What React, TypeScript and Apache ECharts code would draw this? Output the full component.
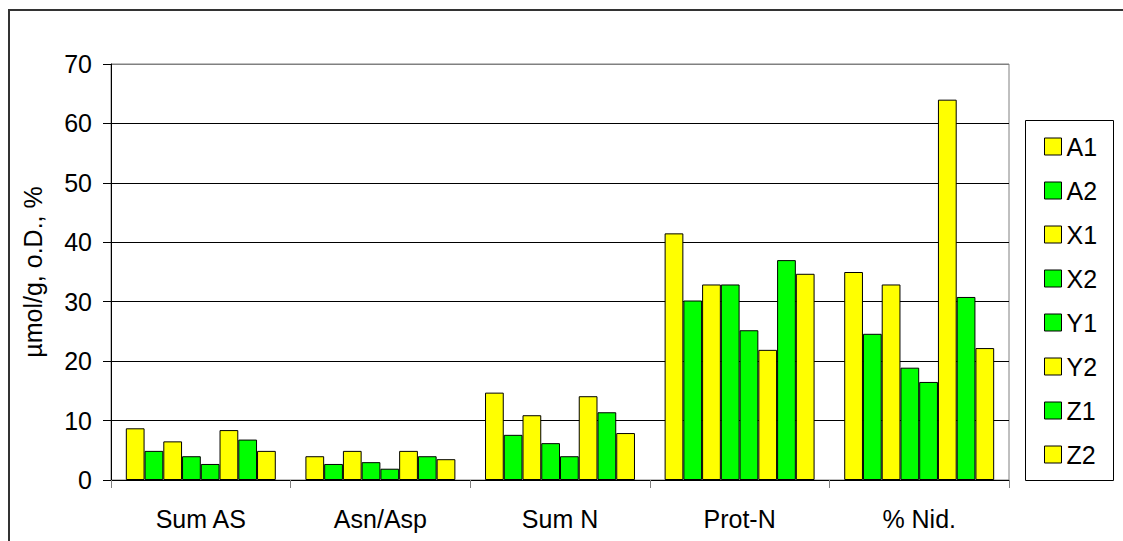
import React, { useEffect, useRef } from "react";
import * as echarts from "echarts";

// Categories along the x axis
const categories = ["Sum AS", "Asn/Asp", "Sum N", "Prot-N", "% Nid."];

// Series values, one value per category
const A1 = [8.7, 4.0, 14.7, 41.5, 35.0];
const A2 = [4.9, 2.7, 7.6, 30.2, 24.6];
const X1 = [6.5, 4.9, 10.9, 32.9, 32.9];
const X2 = [4.0, 3.0, 6.2, 32.9, 18.9];
const Y1 = [2.7, 1.9, 4.0, 25.2, 16.5];
const Y2 = [8.4, 4.9, 14.1, 21.9, 64.0];
const Z1 = [6.8, 4.0, 11.4, 37.0, 30.8];
const Z2 = [4.9, 3.5, 7.9, 34.7, 22.2];

const seriesNames = ["A1", "A2", "X1", "X2", "Y1", "Y2", "Z1", "Z2"];
const seriesValues = [A1, A2, X1, X2, Y1, Y2, Z1, Z2];

const YELLOW = "#FFFF00";
const GREEN = "#00FF00";
const seriesColors = [YELLOW, GREEN, YELLOW, GREEN, GREEN, YELLOW, GREEN, YELLOW];

const FONT = "'Liberation Sans', Arial, sans-serif";

export default function App() {
  const ref = useRef<HTMLDivElement>(null);

  useEffect(() => {
    if (!ref.current) return;
    const chart = echarts.init(ref.current, null, { renderer: "svg" });

    const gridColors = ["#000", "#000", "#000", "#000", "#000", "#000", "#000", "#808080"];

    chart.setOption({
      animation: false,
      backgroundColor: "#fff",
      textStyle: { fontFamily: FONT, color: "#000" },
      grid: {
        left: 111,
        right: 114,
        top: 64,
        bottom: 61,
        show: true,
        borderColor: "#808080",
        borderWidth: 1,
        backgroundColor: "transparent",
      },
      legend: {
        orient: "vertical",
        left: 1044,
        top: 134,
        padding: 0,
        itemWidth: 17,
        itemHeight: 17,
        itemGap: 19,
        icon: "rect",
        textStyle: { fontFamily: FONT, fontSize: 25, color: "#000", lineHeight: 25 },
        itemStyle: { borderColor: "#000", borderWidth: 1 },
        data: seriesNames,
      },
      xAxis: {
        type: "category",
        data: categories,
        axisLine: { lineStyle: { color: "#000", width: 1 } },
        axisTick: { show: true, length: 8, lineStyle: { color: "#808080" } },
        axisLabel: { fontFamily: FONT, fontSize: 25, color: "#000", margin: 26 },
      },
      yAxis: {
        type: "value",
        min: 0,
        max: 70,
        interval: 10,
        name: "µmol/g, o.D., %",
        nameLocation: "middle",
        nameGap: 66,
        nameTextStyle: { fontFamily: FONT, fontSize: 25, color: "#000" },
        axisLine: { show: true, lineStyle: { color: "#000", width: 1 } },
        axisTick: { show: true, length: 8, lineStyle: { color: "#000" } },
        axisLabel: { fontFamily: FONT, fontSize: 25, color: "#000", margin: 19 },
        splitLine: { show: true, lineStyle: { color: gridColors, width: 1 } },
      },
      series: seriesNames.map((name, i) => ({
        name,
        type: "bar",
        data: seriesValues[i],
        barGap: "0%",
        barCategoryGap: "16.5%",
        itemStyle: { color: seriesColors[i], borderColor: "#000", borderWidth: 1 },
      })),
      graphic: [
        {
          type: "rect",
          shape: { x: 9, y: 10, width: 1300, height: 700 },
          style: { fill: "transparent", stroke: "#333", lineWidth: 2 },
          silent: true,
        },
        {
          type: "rect",
          shape: { x: 1025.5, y: 120.5, width: 88, height: 360 },
          style: { fill: "transparent", stroke: "#000", lineWidth: 1 },
          silent: true,
        },
      ],
    });

    return () => chart.dispose();
  }, []);

  return (
    <div
      ref={ref}
      style={{ position: "fixed", left: 0, top: 0, width: 1123, height: 541, overflow: "hidden" }}
    />
  );
}
